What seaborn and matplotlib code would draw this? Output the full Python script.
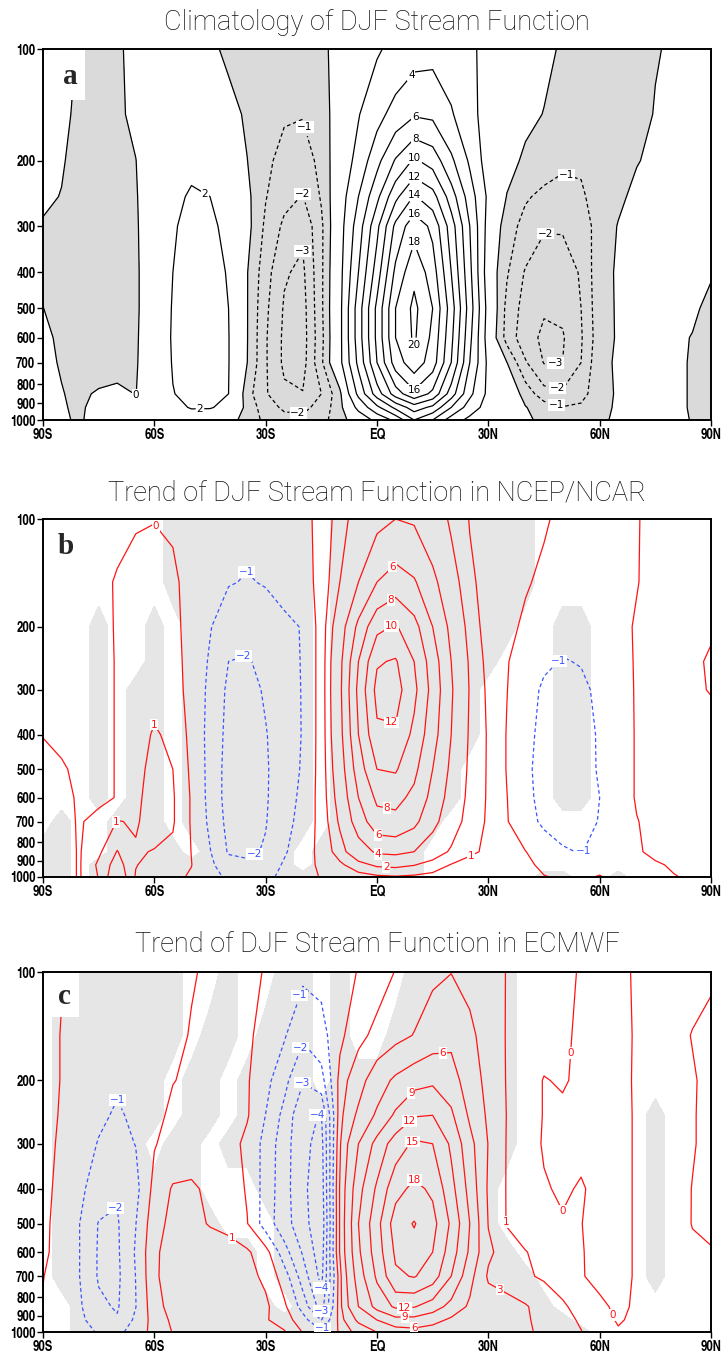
import os
import numpy as np
import pandas as pd
import matplotlib
matplotlib.use('Agg')
import matplotlib.pyplot as plt
import seaborn as sns
from matplotlib import font_manager as fm
from matplotlib.patches import Rectangle
from matplotlib.ticker import FixedLocator, NullLocator

# ---------------- data ----------------
LATITUDES = list(range(-90, 91, 5))
PRESSURE_LEVELS = [100, 150, 200, 250, 300, 400, 500, 600, 700, 850, 925, 1000]
X_TICKS = [-90, -60, -30, 0, 30, 60, 90]
X_TICK_LABELS = ['90S', '60S', '30S', 'EQ', '30N', '60N', '90N']
Y_TICKS = [100, 200, 300, 400, 500, 600, 700, 800, 900, 1000]

TITLES = ['Climatology of DJF Stream Function',
          'Trend of DJF Stream Function in NCEP/NCAR',
          'Trend of DJF Stream Function in ECMWF']
LETTERS = ['a', 'b', 'c']

# panel a: DJF climatological stream function (rows = pressure levels, cols = latitudes)
clim_sf = [
 [0.3,0.1,-0.03,-0.3,-0.15,0.3,0.7,0.9,0.7,0.2,-0.2,-0.45,-0.6,-0.65,-0.6,-0.3,0.5,1.2,1.8,2.5,3.2,3.4,3.0,2.3,1.5,0.9,0.5,0.2,-0.1,-0.3,-0.4,-0.35,-0.25,-0.05,0.1,0.15,0.1],
 [0.2,0.1,-0.1,-0.4,-0.2,0.25,0.9,1.3,1.3,0.9,0.35,-0.15,-0.6,-0.9,-0.95,-0.5,0.6,1.9,3.3,4.8,5.8,5.6,4.2,2.6,1.2,0.6,0.25,-0.03,-0.3,-0.5,-0.6,-0.5,-0.3,0.05,0.15,0.15,0.1],
 [0.1,0.05,-0.2,-0.5,-0.35,-0.02,0.9,1.6,1.8,1.5,0.9,0.02,-0.8,-1.3,-1.5,-0.7,0.8,2.6,5.4,8.2,10.3,9.2,6.4,3.7,1.0,0.4,-0.2,-0.6,-0.85,-0.9,-0.7,-0.4,-0.05,0.2,0.2,0.15,0.1],
 [0.1,-0.02,-0.3,-0.6,-0.45,-0.1,0.9,1.8,2.1,2.0,1.3,0.25,-0.95,-1.7,-2.05,-0.9,1.0,4.0,7.5,11.5,14.2,12.8,9.0,5.0,1.6,-0.05,-0.9,-1.2,-1.3,-1.1,-0.7,-0.2,0.25,0.3,0.2,0.15,0.1],
 [-0.05,-0.2,-0.45,-0.7,-0.55,-0.15,0.9,1.9,2.3,2.3,1.6,0.35,-1.2,-2.2,-2.8,-1.2,1.2,5.0,9.5,14.5,17.3,15.5,11.0,6.0,1.2,-0.6,-1.3,-1.9,-1.9,-1.5,-0.6,0.05,0.35,0.35,0.25,0.15,0.1],
 [-0.1,-0.3,-0.55,-0.75,-0.6,-0.2,0.9,2.0,2.5,2.5,1.9,0.05,-1.6,-2.9,-3.2,-1.2,1.4,6.0,11.0,16.5,19.5,17.0,12.0,6.5,0.8,-0.9,-2.1,-2.6,-2.5,-1.9,-0.3,0.1,0.3,0.3,0.2,0.1,0.02],
 [0.01,-0.25,-0.5,-0.7,-0.6,-0.2,0.9,2.1,2.6,2.6,2.0,0.05,-1.8,-3.1,-3.4,-1.2,1.5,7.0,12.5,18.0,20.5,18.0,13.0,7.0,1.2,-1.3,-2.4,-2.9,-2.8,-2.0,-0.35,0.1,0.2,0.15,0.08,0.04,-0.06],
 [0.12,-0.1,-0.4,-0.6,-0.5,-0.15,0.9,2.15,2.65,2.65,2.05,0.05,-1.9,-3.2,-3.45,-1.3,1.5,7.0,12.5,18.0,20.3,17.5,12.5,6.5,1.0,-1.4,-2.6,-3.2,-3.1,-2.1,-0.4,0.1,0.15,0.12,0.05,-0.01,-0.08],
 [0.15,-0.05,-0.3,-0.45,-0.35,-0.1,0.8,2.1,2.6,2.6,2.05,0.02,-1.9,-3.2,-3.4,-1.2,1.5,6.5,12.0,17.0,19.2,17.0,12.0,6.0,1.5,0.02,-1.9,-3.05,-3.0,-2.0,-0.2,0.1,0.15,0.12,0.05,-0.02,-0.08],
 [0.2,0.03,-0.15,0.1,0.2,-0.02,0.7,1.95,2.4,2.4,2.0,-0.6,-1.9,-2.8,-2.95,-2.0,-0.3,4.5,9.0,13.0,15.5,13.5,9.0,4.5,1.5,0.9,-0.4,-1.6,-1.8,-1.4,-0.3,0.1,0.15,0.1,0.05,-0.02,-0.08],
 [0.2,0.05,-0.1,0.25,0.4,0.3,0.8,1.6,2.1,2.1,1.6,-0.4,-1.5,-2.2,-2.3,-1.6,-0.4,2.5,5.5,8.5,11.0,9.5,6.0,3.0,1.2,0.5,0.05,-0.5,-0.95,-0.8,-0.2,0.1,0.12,0.1,0.05,-0.02,-0.08],
 [0.15,0.05,-0.05,0.2,0.35,0.4,0.6,1.0,1.2,1.0,0.5,-0.5,-1.2,-1.6,-1.7,-1.3,-0.5,0.8,2.5,4.5,8.0,6.0,3.0,1.5,0.8,0.4,0.15,-0.2,-0.4,-0.35,-0.1,0.1,0.12,0.1,0.05,-0.01,-0.08],
]

# panel b: NCEP/NCAR trend
ncep_trend = [
 [-0.3,-0.3,-0.3,-0.2,-0.15,-0.05,-0.02,-0.1,-0.3,-0.5,-0.7,-0.8,-0.7,-0.5,-0.3,0.3,1.5,2.6,3.5,4.0,3.8,2.8,1.8,0.95,0.6,0.4,0.2,0.05,-0.1,-0.2,-0.2,-0.1,-0.02,0.1,0.2,0.3,0.35],
 [-0.3,-0.3,-0.25,-0.15,0.05,0.2,0.3,0.15,-0.3,-0.7,-0.95,-1.05,-0.95,-0.7,-0.4,0.3,2.0,4.0,6.0,7.0,6.2,4.5,2.6,1.2,0.6,0.35,0.05,-0.1,-0.3,-0.4,-0.4,-0.2,-0.02,0.15,0.3,0.45,0.6],
 [-0.3,-0.3,-0.2,-0.15,0.04,0.3,0.45,0.3,-0.4,-0.95,-1.5,-1.6,-1.4,-1.2,-0.95,0.4,3.0,6.5,9.5,10.2,8.7,6.0,3.5,1.5,0.6,0.15,-0.1,-0.45,-0.7,-0.6,-0.4,-0.15,0.05,0.2,0.4,0.7,0.9],
 [-0.3,-0.25,-0.2,-0.15,0.03,0.4,0.6,0.4,-0.4,-1.1,-2.0,-2.1,-1.7,-1.3,-0.95,0.4,3.5,8.0,11.8,12.2,10.0,7.0,4.0,1.8,0.7,0.05,-0.4,-0.85,-1.05,-0.95,-0.6,-0.2,0.05,0.25,0.5,0.85,1.1],
 [-0.3,-0.2,-0.15,-0.15,0.03,0.45,0.7,0.5,-0.4,-1.2,-2.2,-2.3,-1.9,-1.4,-0.95,0.4,3.6,8.5,12.6,12.8,10.5,7.3,4.2,1.9,0.8,0.02,-0.6,-1.15,-1.3,-1.2,-0.8,-0.25,0.05,0.3,0.55,0.85,1.05],
 [-0.02,-0.1,-0.1,-0.15,0.03,0.6,1.1,0.8,-0.3,-1.3,-2.3,-2.4,-2.05,-1.5,-0.95,0.4,3.4,8.0,11.6,11.7,9.5,6.8,4.0,1.8,0.9,-0.05,-0.7,-1.3,-1.45,-1.35,-0.9,-0.3,0.05,0.3,0.5,0.6,0.6],
 [0.2,0.05,-0.1,-0.15,0.03,0.7,1.3,1.0,-0.2,-1.3,-2.4,-2.5,-2.1,-1.5,-0.9,0.4,3.0,7.0,10.0,10.2,8.5,6.0,3.6,1.7,0.9,-0.05,-0.8,-1.35,-1.5,-1.4,-0.9,-0.3,0.05,0.2,0.3,0.35,0.3],
 [0.3,0.1,-0.05,-0.15,0.03,0.8,1.4,1.1,-0.1,-1.3,-2.4,-2.5,-2.1,-1.4,-0.8,0.4,2.6,6.0,8.4,8.6,7.5,5.4,3.2,1.6,0.9,0.02,-0.75,-1.3,-1.45,-1.4,-1.0,-0.3,0.05,0.2,0.25,0.3,0.25],
 [0.3,0.15,-0.05,0.2,1.05,0.9,1.4,1.1,-0.1,-1.2,-2.3,-2.45,-2.05,-1.3,-0.7,0.35,2.2,5.0,7.2,7.4,6.5,4.6,2.8,1.4,0.9,0.05,-0.6,-1.2,-1.35,-1.35,-0.95,-0.4,-0.02,0.15,0.2,0.25,0.2],
 [0.3,0.2,-0.05,0.8,2.05,1.1,0.95,0.8,-0.02,-0.95,-2.1,-2.2,-1.9,-1.1,-0.5,0.3,1.5,3.0,4.3,4.5,4.0,2.8,1.8,1.1,0.9,0.5,0.02,-0.4,-0.9,-1.05,-0.5,-0.2,-0.05,0.1,0.15,0.2,0.2],
 [0.3,0.2,-0.05,1.2,2.5,1.05,0.6,0.5,0.02,-0.8,-1.6,-1.8,-1.5,-0.9,-0.4,0.2,0.8,1.6,2.2,2.3,2.05,1.5,0.95,0.8,0.6,0.4,0.1,-0.1,-0.3,-0.3,-0.1,-0.15,-0.1,-0.05,0.05,0.15,0.2],
 [0.3,0.2,-0.05,1.05,3.0,0.9,0.4,0.2,-0.1,-0.6,-1.2,-1.3,-1.1,-0.9,-0.3,0.05,0.3,0.6,0.8,0.9,0.8,0.7,0.6,0.5,0.4,0.3,0.1,0.02,-0.05,-0.05,0.02,-0.1,-0.1,-0.08,-0.02,0.05,0.1],
]

# panel c: ECMWF trend
ecmwf_trend = [
 [0.2,0.02,-0.15,-0.35,-0.45,-0.4,-0.3,-0.2,-0.05,0.1,0.25,0.2,-0.05,-0.5,-0.8,-0.7,-0.4,0.05,0.4,1.05,1.7,2.5,2.95,2.4,1.6,0.95,0.6,0.4,0.15,-0.05,-0.2,-0.1,0.05,0.15,0.2,0.15,0.1],
 [0.2,-0.02,-0.3,-0.55,-0.65,-0.55,-0.35,-0.2,0.05,0.25,0.35,0.15,-0.3,-0.9,-1.85,-1.4,-0.2,0.6,1.4,2.2,3.1,4.5,5.2,3.5,2.0,0.9,0.6,0.4,0.1,-0.1,-0.25,-0.15,0.05,0.15,0.15,-0.02,-0.2],
 [0.2,-0.02,-0.4,-0.7,-0.9,-0.7,-0.35,-0.02,0.1,0.35,0.45,0.1,-0.7,-1.7,-2.95,-2.4,0.3,2.0,4.5,6.6,8.0,8.5,7.5,4.2,2.3,0.9,0.5,-0.05,0.1,-0.2,-0.3,-0.25,0.1,0.25,0.25,0.05,-0.15],
 [0.2,-0.05,-0.5,-0.85,-1.1,-0.85,-0.2,0.15,0.35,0.5,0.55,0.1,-1.02,-2.3,-3.8,-4.05,0.5,3.5,6.5,9.5,11.8,12.0,9.5,5.5,2.5,0.95,0.5,-0.05,-0.2,-0.2,-0.35,-0.3,0.1,0.3,0.3,0.05,-0.2],
 [0.2,-0.1,-0.6,-1.05,-1.25,-0.98,-0.05,0.3,0.5,0.6,0.5,-0.3,-1.3,-2.6,-3.7,-4.4,0.8,6.0,10.0,13.5,15.5,15.0,11.5,7.0,2.9,0.9,0.5,-0.1,-0.2,-0.25,-0.35,-0.3,0.1,0.3,0.3,0.05,-0.2],
 [0.2,-0.2,-0.8,-1.5,-1.9,-1.3,0.3,1.1,1.15,0.8,0.6,-0.1,-1.4,-2.6,-3.8,-4.6,1.1,8.0,12.5,17.0,18.7,17.5,13.0,8.0,2.6,0.9,0.4,0.1,-0.15,0.1,-0.3,-0.3,0.1,0.3,0.3,-0.02,-0.2],
 [0.15,-0.25,-1.02,-2.05,-2.1,-1.02,0.6,1.3,1.2,0.95,0.8,0.05,-1.5,-2.6,-3.6,-4.8,1.1,9.0,14.0,19.5,21.2,19.0,14.5,9.0,2.9,0.9,0.4,0.2,0.1,0.02,-0.3,-0.3,0.1,0.3,0.25,-0.02,-0.15],
 [0.1,-0.2,-1.02,-2.1,-2.15,-0.9,0.8,1.5,1.5,1.4,1.3,1.15,0.4,-1.6,-3.1,-4.6,1.1,8.5,13.5,18.5,19.8,18.0,13.5,8.5,3.5,1.8,1.05,0.6,0.35,0.05,-0.25,-0.3,0.1,0.3,0.25,0.1,0.05],
 [0.02,-0.3,-1.02,-2.1,-2.2,-0.98,0.8,1.6,1.6,1.5,1.4,1.3,0.8,-0.5,-2.5,-4.3,0.5,7.5,12.5,17.5,18.2,16.5,12.0,7.0,2.6,2.05,1.2,0.8,0.4,0.05,-0.2,-0.3,0.1,0.3,0.25,0.15,0.1],
 [-0.05,-0.3,-0.9,-1.8,-2.1,-1.02,0.6,1.4,1.6,1.6,1.5,1.4,1.2,0.2,-1.4,-3.5,0.5,6.0,10.0,12.5,12.2,10.5,8.0,5.5,4.5,3.8,3.2,2.05,1.2,0.5,0.15,-0.15,0.1,0.2,0.2,0.15,0.1],
 [-0.1,-0.3,-0.8,-1.5,-1.9,-0.8,0.4,1.2,1.4,1.4,1.35,1.3,1.1,0.5,-0.6,-2.05,0.3,3.5,6.05,8.05,8.05,7.05,5.5,4.5,4.05,3.6,3.2,2.5,1.5,0.8,0.2,-0.05,0.1,0.2,0.2,0.15,0.1],
 [-0.1,-0.25,-0.6,-1.1,-1.3,-0.5,0.3,1.05,1.2,1.2,1.2,1.15,1.1,1.1,-0.05,-0.8,0.1,1.5,3.05,4.5,5.0,4.5,4.05,3.8,3.6,3.4,3.15,2.8,1.8,1.05,0.3,0.05,0.1,0.15,0.15,0.1,0.05],
]

# significance masks (1 = shaded) for the two trend panels
ncep_signif = [
 [0,0,0,0,0,0,0,1,1,1,1,1,1,1,1,0,1,1,1,1,1,1,1,1,1,1,1,0,0,0,0,0,0,0,0,0,0],
 [0,0,0,0,0,0,0,1,1,1,1,1,1,1,1,0,1,1,1,1,1,1,1,1,1,1,1,0,0,0,0,0,0,0,0,0,0],
 [0,0,0,1,0,0,1,0,1,1,1,1,1,1,1,0,1,1,1,1,1,1,1,1,1,1,0,0,1,1,0,0,0,0,0,0,0],
 [0,0,0,1,0,0,1,0,1,1,1,1,1,1,1,0,1,1,1,1,1,1,1,1,1,0,0,0,1,1,0,0,0,0,0,0,0],
 [0,0,0,1,0,1,1,0,1,1,1,1,1,1,1,0,1,1,1,1,1,1,1,1,0,0,0,0,1,1,0,0,0,0,0,0,0],
 [0,0,0,1,0,1,1,0,1,1,1,1,1,1,1,0,1,1,1,1,1,1,1,1,0,0,0,0,1,1,0,0,0,0,0,0,0],
 [0,0,0,1,0,1,1,0,1,1,1,1,1,1,1,0,1,1,1,1,1,1,1,0,0,0,0,0,1,1,0,0,0,0,0,0,0],
 [0,0,0,1,0,1,1,0,1,1,1,1,1,1,1,0,1,1,1,1,1,1,1,0,0,0,0,0,1,1,0,0,0,0,0,0,0],
 [0,1,0,0,1,1,1,0,1,1,1,1,1,1,1,0,1,1,1,1,1,1,0,0,0,0,0,0,0,0,0,0,0,0,0,0,0],
 [1,1,0,0,1,1,1,1,0,1,1,1,1,1,0,1,1,1,1,1,1,0,0,0,0,0,0,0,0,0,0,0,0,0,0,0,0],
 [1,1,0,1,1,1,1,1,1,1,1,1,1,1,0,1,1,1,1,1,1,0,0,0,0,0,0,0,0,0,0,0,0,0,0,0,0],
 [1,1,0,1,1,1,1,1,1,1,1,1,1,1,1,1,1,1,1,1,1,0,0,0,0,0,0,1,1,0,0,1,0,0,0,0,0],
]
ecmwf_signif = [
 [0,1,1,1,1,1,1,1,0,0,1,0,0,1,1,0,1,0,0,0,1,1,1,1,1,1,0,0,0,0,0,0,0,0,0,0,0],
 [0,1,1,1,1,1,1,1,0,1,1,0,1,1,1,0,1,0,0,1,1,1,1,1,1,1,0,0,0,0,0,0,0,0,0,0,0],
 [0,1,1,1,1,1,1,0,1,1,0,1,1,1,1,0,1,1,1,1,1,1,1,1,1,1,0,0,0,0,0,0,0,0,0,0,0],
 [0,1,1,1,1,1,1,0,1,1,0,1,1,1,1,1,1,1,1,1,1,1,1,1,1,1,0,0,0,0,0,0,0,1,0,0,0],
 [0,1,1,1,1,1,0,1,1,0,1,1,1,1,1,1,1,1,1,1,1,1,1,1,1,1,0,0,0,0,0,0,0,1,0,0,0],
 [0,1,1,1,1,1,1,1,1,0,0,0,1,1,1,1,1,1,1,1,1,1,1,1,1,0,0,0,0,0,0,0,0,1,0,0,0],
 [0,1,1,1,1,1,1,1,1,1,0,0,0,1,1,1,1,1,1,1,1,1,1,1,1,0,0,0,0,0,0,0,0,1,0,0,0],
 [0,1,1,1,1,1,1,1,1,1,1,1,0,1,1,1,1,1,1,1,1,1,1,1,1,1,0,0,0,0,0,0,0,1,0,0,0],
 [0,1,1,1,1,1,1,1,1,1,1,1,0,1,1,1,1,1,1,1,1,1,1,1,1,1,1,0,0,0,0,0,0,1,0,0,0],
 [0,0,1,1,1,1,1,1,1,1,1,1,1,0,1,1,1,1,1,1,1,1,1,1,1,1,1,1,0,0,0,0,0,0,0,0,0],
 [0,0,1,1,1,1,1,1,1,1,1,1,1,1,1,1,1,1,1,1,1,1,1,1,1,1,1,1,1,0,0,0,0,0,0,0,0],
 [0,0,1,1,1,1,1,1,1,1,1,1,1,1,1,1,1,1,1,1,1,1,1,1,1,1,1,1,1,1,0,0,0,0,0,0,0],
]

# contour levels
clim_neg_levels = [-3, -2, -1]
clim_pos_levels = [0, 2, 4, 6, 8, 10, 12, 14, 16, 18, 20]
ncep_neg_levels = [-2, -1]
ncep_pos_levels = [0, 1, 2, 4, 6, 8, 10, 12]
ecmwf_neg_levels = [-4, -3, -2, -1]
ecmwf_pos_levels = [0, 1, 3, 6, 9, 12, 15, 18, 21]

# contour label anchors: (level, latitude, pressure)
clim_labels = [(-1,-20,163),(-2,-20,232),(-3,-20,330),(-2,-21.3,965),(2,-44.7,230),(2,-47.7,929),
               (0,-65,906),(4,10.2,120),(6,10.2,154),(8,10.2,176),(10,10.2,197),(12,10.2,220),
               (14,10.2,245),(16,10.2,275),(18,10.2,319),(20,9.7,656),(16,10.2,830),
               (-1,50.4,227),(-2,45.5,307),(-3,48.2,720),(-2,48.2,857),(-1,48.2,929)]
ncep_labels = [(0,-59.8,105),(-1,-36.9,136),(-2,-36.9,225),(-2,-31,938),(1,-58.5,314),(1,-69.8,707),
               (6,2.7,131),(8,2.7,162),(10,2.7,188),(12,3.5,384),(8,2.7,641),(6,0.3,773),
               (4,0.3,868),(2,2.5,932),(1,23.7,803),(-1,47.7,243),(-1,56.3,851)]
ecmwf_labels = [(-1,-19.9,117),(-2,-19.9,163),(-3,-19.9,200),(-4,-17.2,246),(-4,-14.8,805),
                (-3,-14.8,886),(-1,-14.8,975),(-1,-69.8,227),(-2,-72,430),(1,-37.5,521),
                (6,17.8,172),(9,10,221),(12,7.7,251),(15,7.7,280),(18,7.5,341),(12,7.5,858),
                (9,7.5,914),(6,10,975),(3,32.6,779),(1,35.3,494),(0,47.7,167),(0,47.7,531),(0,65.2,880)]

# ---------------- style ----------------
sns.set_theme(style='white', context='notebook')
plt.rcParams['font.family'] = ['DejaVu Sans']
plt.rcParams['axes.unicode_minus'] = True


def _find(props):
    try:
        return fm.findfont(props, fallback_to_default=False)
    except Exception:
        return None


def pick_title_font():
    for fam in ['Roboto', 'Lato', 'Open Sans', 'Noto Sans', 'DejaVu Sans']:
        p = _find(fm.FontProperties(family=fam, weight='light'))
        if p and ('light' in os.path.basename(p).lower() or 'thin' in os.path.basename(p).lower()):
            return fam, 'light'
    return 'DejaVu Sans', 'normal'


def pick_tick_font():
    for fam in ['TeX Gyre Heros Cn', 'Liberation Sans Narrow']:
        p = _find(fm.FontProperties(family=fam, weight='bold'))
        if p:
            b = os.path.basename(p).lower()
            if 'cn' in b or 'narrow' in b:
                return fam
    return 'DejaVu Sans'


TITLE_FAMILY, TITLE_WEIGHT = pick_title_font()
TICK_FAMILY = pick_tick_font()
SERIF = 'Liberation Serif' if _find(fm.FontProperties(family='Liberation Serif')) else 'DejaVu Serif'

W, H = 722, 1354
fig = plt.figure(figsize=(W / 100, H / 100), dpi=100)
fig.patch.set_facecolor('white')


def px_rect(x0, x1, y0, y1):
    return [x0 / W, 1 - y1 / H, (x1 - x0) / W, (y1 - y0) / H]


panels = [
    dict(rect=px_rect(43, 711, 49, 420), field=clim_sf, shade=None, gray='#dadada',
         neg=clim_neg_levels, pos=clim_pos_levels, negc='black', posc='black',
         labels=clim_labels, title_y=22, box=(55, 85, 50, 100), letter_xy=(70, 76)),
    dict(rect=px_rect(43, 711, 519, 877), field=ncep_trend, shade=ncep_signif, gray='#e6e6e6',
         neg=ncep_neg_levels, pos=ncep_pos_levels, negc='#3a55ff', posc='#ff1414',
         labels=ncep_labels, title_y=493, box=(50, 86, 522, 570), letter_xy=(66, 546)),
    dict(rect=px_rect(43, 711, 972, 1332), field=ecmwf_trend, shade=ecmwf_signif, gray='#e6e6e6',
         neg=ecmwf_neg_levels, pos=ecmwf_pos_levels, negc='#3a55ff', posc='#ff1414',
         labels=ecmwf_labels, title_y=944, box=(49, 79, 973, 1017), letter_xy=(64, 996)),
]


def fmt_label(v):
    s = '%d' % round(v)
    return s.replace('-', '\u2212')


DASH = (0, (3.0, 2.2))

for i, spec in enumerate(panels):
    ax = fig.add_axes(spec['rect'])
    ax.set_facecolor('white')
    ax.set_yscale('log')
    ax.set_xlim(-90, 90)
    ax.set_ylim(1000, 100)
    Z = np.array(spec['field'], dtype=float)
    if spec['shade'] is None:
        ax.contourf(LATITUDES, PRESSURE_LEVELS, Z, levels=[Z.min() - 1, 0],
                    colors=[spec['gray']], zorder=1)
    else:
        S = np.array(spec['shade'], dtype=float)
        ax.contourf(LATITUDES, PRESSURE_LEVELS, S, levels=[0.5, 1.5],
                    colors=[spec['gray']], zorder=1)
    # one contour set per level so each label can be pinned to its own line
    sets = {}
    for lev in spec['neg']:
        sets[lev] = ax.contour(LATITUDES, PRESSURE_LEVELS, Z, levels=[lev], colors=[spec['negc']],
                               linewidths=0.9, linestyles=[DASH], zorder=2)
    for lev in spec['pos']:
        sets[lev] = ax.contour(LATITUDES, PRESSURE_LEVELS, Z, levels=[lev], colors=[spec['posc']],
                               linewidths=0.9, linestyles=['solid'], zorder=2)
    for lev, lat, p in spec['labels']:
        try:
            txts = ax.clabel(sets[lev], manual=[(lat, p)], fmt=fmt_label,
                             fontsize=7.5, inline=True, inline_spacing=1)
        except Exception:
            continue
        for t in txts:
            t.set_rotation(0)
            t.set_bbox(dict(boxstyle='square,pad=0.08', fc='white', ec='none'))
            t.set_zorder(4)

    # axes cosmetics
    for sp in ax.spines.values():
        sp.set_color('black')
        sp.set_linewidth(1.4)
        sp.set_visible(True)
    ax.yaxis.set_major_locator(FixedLocator(Y_TICKS))
    ax.yaxis.set_minor_locator(NullLocator())
    ax.set_yticklabels([str(v) for v in Y_TICKS])
    ax.set_xticks(X_TICKS)
    ax.set_xticklabels(X_TICK_LABELS)
    ax.tick_params(axis='both', which='major', direction='out', length=4, width=1,
                   color='black', labelsize=10, pad=1.5, bottom=True, left=True,
                   top=False, right=False, labelcolor='black')
    for lab in ax.get_xticklabels() + ax.get_yticklabels():
        lab.set_fontfamily(TICK_FAMILY)
        lab.set_fontweight('bold')
    ax.grid(False)

    # panel letter in a white box
    bx0, bx1, by0, by1 = spec['box']
    fig.patches.append(Rectangle((bx0 / W, 1 - by1 / H), (bx1 - bx0) / W, (by1 - by0) / H,
                                 transform=fig.transFigure, fc='white', ec='none', zorder=5))
    lx, ly = spec['letter_xy']
    fig.text(lx / W, 1 - ly / H, LETTERS[i], ha='center', va='center', fontsize=21,
             fontfamily=SERIF, fontweight='bold', zorder=6)

    fig.text(377 / W, 1 - spec['title_y'] / H, TITLES[i], ha='center', va='center',
             fontsize=19.5, fontfamily=TITLE_FAMILY, fontweight=TITLE_WEIGHT, color='#111111')

fig.savefig('out.png', dpi=100, facecolor='white')
